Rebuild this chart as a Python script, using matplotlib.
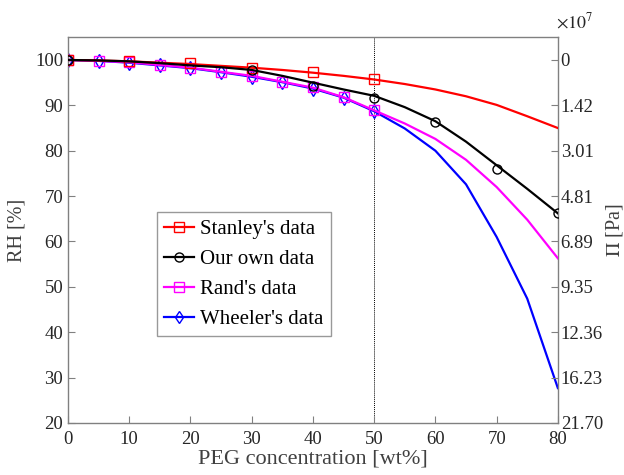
import matplotlib
matplotlib.use("Agg")
import matplotlib.pyplot as plt

x_fit = [0, 5, 10, 15, 20, 25, 30, 35, 40, 45, 50, 55, 60, 65, 70, 75, 80]
stanley_fit = [100, 99.9, 99.7, 99.4, 99.1, 98.7, 98.3, 97.8, 97.2, 96.5, 95.7,
               94.7, 93.5, 92.0, 90.1, 87.6, 85.0]
own_fit = [100, 99.9, 99.7, 99.3, 98.8, 98.4, 97.8, 96.5, 95.0, 93.5, 92.1,
           89.6, 86.5, 82.0, 76.8, 71.6, 66.2]
rand_fit = [100, 99.8, 99.5, 98.9, 98.3, 97.4, 96.5, 95.2, 93.9, 91.8, 88.9,
            86.0, 82.6, 78.0, 72.0, 64.8, 56.3]
wheeler_fit = [100, 99.8, 99.4, 98.8, 98.2, 97.3, 96.3, 95.1, 93.7, 91.7, 88.7,
               84.9, 80.0, 72.6, 61.0, 47.4, 27.7]

# measured points
stanley_x = [0, 10, 20, 30, 40, 50]
stanley_y = [100, 99.7, 99.3, 98.2, 97.4, 95.7]
own_x = [0, 30, 40, 50, 60, 70, 80]
own_y = [100, 97.8, 94.3, 91.7, 86.4, 75.9, 66.2]
rand_x = [0, 5, 10, 15, 20, 25, 30, 35, 40, 45, 50]
rand_y = [100, 99.7, 99.5, 98.8, 98.3, 97.3, 96.5, 95.2, 94.0, 91.9, 88.9]
wheeler_x = [0, 5, 10, 15, 20, 25, 30, 35, 40, 45, 50]
wheeler_y = [100, 99.8, 99.4, 98.8, 98.2, 97.3, 96.3, 95.1, 93.7, 91.7, 88.7]

rh_ticks = [20, 30, 40, 50, 60, 70, 80, 90, 100]
pi_labels = ["21.70", "16.23", "12.36", "9.35", "6.89", "4.81", "3.01", "1.42", "0"]
x_ticks = [0, 10, 20, 30, 40, 50, 60, 70, 80]

series = [
    ("Wheeler's data", "blue", "d", wheeler_x, wheeler_y, wheeler_fit, 2),
    ("Rand's data", "magenta", "s", rand_x, rand_y, rand_fit, 3),
    ("Stanley's data", "red", "s", stanley_x, stanley_y, stanley_fit, 4),
    ("Our own data", "black", "o", own_x, own_y, own_fit, 5),
]
legend_order = ["Stanley's data", "Our own data", "Rand's data", "Wheeler's data"]

plt.rcParams["font.family"] = ["Liberation Serif", "DejaVu Serif"]
plt.rcParams["mathtext.fontset"] = "stix"

grey = "#808080"
txt = "#262626"

fig = plt.figure(figsize=(6.24, 4.75), dpi=100)
ax = fig.add_axes([0.109, 0.1095, 0.785, 0.812])

handles = {}
for name, col, mk, xs, ys, fit, z in series:
    ax.plot(x_fit, fit, color=col, lw=1.6, zorder=z)
    ax.plot(xs, ys, linestyle="none", marker=mk, mfc="none", mec=col,
            ms=6.5 if mk != "d" else 7, mew=1.0, zorder=z)
    h, = ax.plot([], [], color=col, lw=1.6, marker=mk, mfc="none", mec=col,
                 ms=6.5, mew=1.0)
    handles[name] = h

ax.axvline(50, color="black", lw=0.7, ls=(0, (1, 1)), zorder=1)

ax.set_xlim(0, 80)
ax.set_ylim(20, 105)
ax.set_xticks(x_ticks)
ax.set_yticks(rh_ticks)
ax.tick_params(direction="in", length=5, colors=grey, labelcolor=txt,
               labelsize=13.5, top=False, right=False)
ax.tick_params(axis="x", pad=6)
for s in ax.spines.values():
    s.set_color(grey)
    s.set_linewidth(1.0)

ax.set_xlabel("PEG concentration [wt%]", fontsize=16, color="#404040", labelpad=1)
ax.set_ylabel("RH [%]", fontsize=14.5, color="#404040", labelpad=6)

ax2 = ax.twinx()
ax2.set_ylim(20, 105)
ax2.set_yticks(rh_ticks)
ax2.set_yticklabels(pi_labels)
ax2.tick_params(direction="in", length=5, colors=grey, labelcolor=txt,
                labelsize=13.5, pad=2)
for s in ax2.spines.values():
    s.set_visible(False)
ax2.set_ylabel("$\\Pi$ [Pa]", fontsize=14.5, color="#404040", labelpad=1)
ax2.text(0.997, 1.015, "$\\times10^7$", transform=ax2.transAxes, fontsize=13,
         color=txt, ha="left", va="bottom")

leg = ax.legend([handles[n] for n in legend_order], legend_order,
                loc="upper left", bbox_to_anchor=(0.182, 0.547), fontsize=15,
                frameon=True, fancybox=False, handlelength=1.4,
                handletextpad=0.3, borderpad=0.35, labelspacing=0.5,
                borderaxespad=0)
leg.get_frame().set_edgecolor(grey)
leg.get_frame().set_linewidth(1.0)

fig.savefig("out.png", dpi=100)
